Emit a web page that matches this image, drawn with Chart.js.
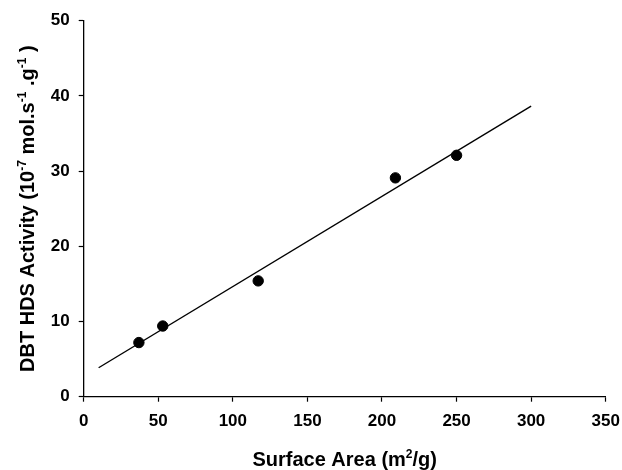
<!DOCTYPE html>
<html>
<head>
<meta charset="utf-8">
<script src="https://cdn.jsdelivr.net/npm/chart.js@4/dist/chart.umd.min.js"></script>
<style>
  html, body { margin: 0; padding: 0; background: #fff; }
  #wrap { width: 622px; height: 470px; position: relative; }
</style>
</head>
<body>
<div id="wrap"><canvas id="c" width="622" height="470"></canvas></div>
<script>
// ---- data ----
const surfaceArea = [37, 53, 117, 209, 250];
const activity = [7.2, 9.4, 15.4, 29.1, 32.1];
const fitX = [10, 300];
const fitY = [3.85, 38.65];
const xTicks = [0, 50, 100, 150, 200, 250, 300, 350];
const yTicks = [0, 10, 20, 30, 40, 50];
const xTitle = [{t: 'Surface Area (m'}, {t: '2', sup: true}, {t: '/g)'}];
const yTitle = [{t: 'DBT HDS Activity (10'}, {t: '-7', sup: true}, {t: ' mol.s'}, {t: '-1', sup: true}, {t: ' .g'}, {t: '-1', sup: true}, {t: ' )'}];

const FAMILY = '"Liberation Sans", Arial, sans-serif';
const mainFont = 'bold 20px ' + FAMILY;
const supFont = 'bold 12px ' + FAMILY;

function richWidth(ctx, segs) {
  let w = 0;
  for (const s of segs) { ctx.font = s.sup ? supFont : mainFont; w += ctx.measureText(s.t).width; }
  return w;
}
function drawRich(ctx, segs, x, y) {
  // x = left start, y = baseline
  let cx = x;
  for (const s of segs) {
    ctx.font = s.sup ? supFont : mainFont;
    ctx.fillText(s.t, cx, s.sup ? y - 8 : y);
    cx += ctx.measureText(s.t).width;
  }
}

const titlePlugin = {
  id: 'richTitles',
  afterDraw(chart) {
    const ctx = chart.ctx;
    const a = chart.chartArea;
    ctx.save();
    ctx.fillStyle = '#000';
    ctx.textBaseline = 'alphabetic';
    ctx.textAlign = 'left';
    // x title
    const wx = richWidth(ctx, xTitle);
    drawRich(ctx, xTitle, (a.left + a.right) / 2 - wx / 2, 466);
    // y title, rotated
    const wy = richWidth(ctx, yTitle);
    ctx.translate(34, (a.top + a.bottom) / 2);
    ctx.rotate(-Math.PI / 2);
    drawRich(ctx, yTitle, -wy / 2, 0);
    ctx.restore();
  }
};

const tickFont = {family: FAMILY, size: 17, weight: 'bold'};

new Chart(document.getElementById('c'), {
  type: 'scatter',
  data: {
    datasets: [
      {
        label: 'Fit',
        type: 'line',
        data: fitX.map((x, i) => ({x: x, y: fitY[i]})),
        borderColor: '#000',
        borderWidth: 1.4,
        pointRadius: 0,
        fill: false,
        tension: 0
      },
      {
        label: 'Data',
        data: surfaceArea.map((x, i) => ({x: x, y: activity[i]})),
        backgroundColor: '#000',
        borderColor: '#000',
        pointRadius: 5.2,
        pointHoverRadius: 5.2
      }
    ]
  },
  options: {
    responsive: false,
    animation: false,
    devicePixelRatio: 1,
    layout: {padding: {left: 0, right: 16.3, top: 20.7, bottom: 0}},
    plugins: {legend: {display: false}, tooltip: {enabled: false}},
    scales: {
      x: {
        type: 'linear',
        min: 0, max: 350,
        afterBuildTicks: (s) => { s.ticks = xTicks.map(v => ({value: v})); },
        afterFit: (s) => { s.height = 73.3; s.paddingLeft = 0; s.paddingRight = 0; },
        ticks: {color: '#000', font: tickFont, padding: 9, maxRotation: 0, autoSkip: false},
        grid: {drawOnChartArea: false, drawTicks: true, tickLength: 5, tickColor: '#000', tickWidth: 1.2},
        border: {color: '#000', width: 1.3},
        title: {display: false}
      },
      y: {
        type: 'linear',
        min: 0, max: 50,
        afterBuildTicks: (s) => { s.ticks = yTicks.map(v => ({value: v})); },
        afterFit: (s) => { s.width = 83.7; s.paddingTop = 0; s.paddingBottom = 0; },
        ticks: {color: '#000', font: tickFont, padding: 9, autoSkip: false},
        grid: {drawOnChartArea: false, drawTicks: true, tickLength: 5, tickColor: '#000', tickWidth: 1.2},
        border: {color: '#000', width: 1.3},
        title: {display: false}
      }
    }
  },
  plugins: [titlePlugin]
});
</script>
</body>
</html>
